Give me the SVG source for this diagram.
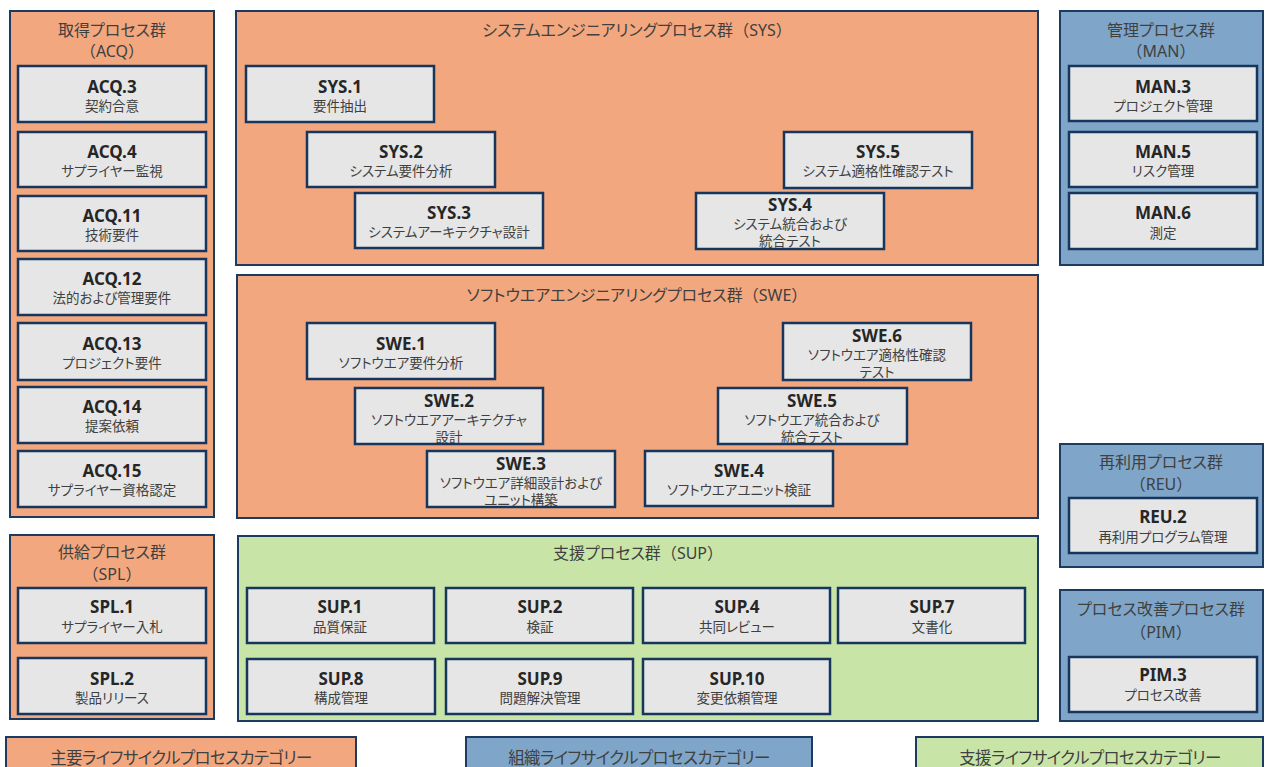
<svg xmlns="http://www.w3.org/2000/svg" width="1265" height="767" viewBox="0 0 1265 767">
  <style>
    text { font-family: "Noto Sans", "Noto Sans CJK JP", sans-serif; text-anchor: middle; font-feature-settings: "palt"; }
    .np { font-feature-settings: normal; }
    .grp { stroke: #1C3B63; stroke-width: 2; }
    .pri { fill: #F3A77E; }
    .org { fill: #7FA6C8; }
    .sup { fill: #C8E5A7; }
    .bx { fill: #E6E6E6; }
    .bd { fill: none; stroke: #17365D; stroke-width: 2.5; }
    .gt { font-size: 16px; fill: #404040; }
    .id { font-size: 17px; font-weight: 700; fill: #262626; }
    .st { font-size: 13.5px; fill: #404040; }
    .lg { font-size: 16.5px; fill: #404040; letter-spacing: -0.6px; }
  </style>

  <!-- primary life cycle: acquisition -->
  <g id="acq">
    <rect class="grp pri" x="10" y="11" width="204" height="506"/>
    <text class="gt" x="112" y="36">取得プロセス群</text>
    <text class="gt np" x="112" y="57">（ACQ）</text>
  </g>
  <g id="acq3"><rect class="bx" x="18" y="66" width="188" height="56"/><text class="id" x="112" y="93">ACQ.3</text><text class="st" x="112" y="111">契約合意</text><rect class="bd" x="18" y="66" width="188" height="56"/></g>
  <g id="acq4"><rect class="bx" x="18" y="132" width="188" height="55"/><text class="id" x="112" y="158">ACQ.4</text><text class="st" x="112" y="176">サプライヤー監視</text><rect class="bd" x="18" y="132" width="188" height="55"/></g>
  <g id="acq11"><rect class="bx" x="18" y="196" width="188" height="55"/><text class="id" x="112" y="222">ACQ.11</text><text class="st" x="112" y="240">技術要件</text><rect class="bd" x="18" y="196" width="188" height="55"/></g>
  <g id="acq12"><rect class="bx" x="18" y="259" width="188" height="56"/><text class="id" x="112" y="285">ACQ.12</text><text class="st" x="112" y="303">法的および管理要件</text><rect class="bd" x="18" y="259" width="188" height="56"/></g>
  <g id="acq13"><rect class="bx" x="18" y="323" width="188" height="57"/><text class="id" x="112" y="350">ACQ.13</text><text class="st" x="112" y="368">プロジェクト要件</text><rect class="bd" x="18" y="323" width="188" height="57"/></g>
  <g id="acq14"><rect class="bx" x="18" y="387" width="188" height="56"/><text class="id" x="112" y="413">ACQ.14</text><text class="st" x="112" y="431">提案依頼</text><rect class="bd" x="18" y="387" width="188" height="56"/></g>
  <g id="acq15"><rect class="bx" x="18" y="451" width="188" height="56"/><text class="id" x="112" y="477">ACQ.15</text><text class="st" x="112" y="495">サプライヤー資格認定</text><rect class="bd" x="18" y="451" width="188" height="56"/></g>

  <!-- system engineering -->
  <g id="sys">
    <rect class="grp pri" x="236" y="11" width="802" height="254"/>
    <text class="gt" x="637" y="36">システムエンジニアリングプロセス群<tspan class="np">（SYS）</tspan></text>
  </g>
  <g id="sys1"><rect class="bx" x="246" y="66" width="188" height="56"/><text class="id" x="340" y="93">SYS.1</text><text class="st" x="340" y="111">要件抽出</text><rect class="bd" x="246" y="66" width="188" height="56"/></g>
  <g id="sys2"><rect class="bx" x="307" y="132" width="188" height="55"/><text class="id" x="401" y="158">SYS.2</text><text class="st" x="401" y="176">システム要件分析</text><rect class="bd" x="307" y="132" width="188" height="55"/></g>
  <g id="sys3"><rect class="bx" x="355" y="193" width="188" height="55"/><text class="id" x="449" y="219">SYS.3</text><text class="st" x="449" y="237">システムアーキテクチャ設計</text><rect class="bd" x="355" y="193" width="188" height="55"/></g>
  <g id="sys4"><rect class="bx" x="696" y="193" width="188" height="56"/><text class="id" x="790" y="211">SYS.4</text><text class="st" x="790" y="229">システム統合および</text><text class="st" x="790" y="246">統合テスト</text><rect class="bd" x="696" y="193" width="188" height="56"/></g>
  <g id="sys5"><rect class="bx" x="784" y="132" width="188" height="56"/><text class="id" x="878" y="158">SYS.5</text><text class="st" x="878" y="176">システム適格性確認テスト</text><rect class="bd" x="784" y="132" width="188" height="56"/></g>

  <!-- software engineering -->
  <g id="swe">
    <rect class="grp pri" x="237" y="275" width="801" height="243"/>
    <text class="gt" x="637" y="301">ソフトウエアエンジニアリングプロセス群<tspan class="np">（SWE）</tspan></text>
  </g>
  <g id="swe1"><rect class="bx" x="307" y="323" width="188" height="56"/><text class="id" x="401" y="350">SWE.1</text><text class="st" x="401" y="368">ソフトウエア要件分析</text><rect class="bd" x="307" y="323" width="188" height="56"/></g>
  <g id="swe2"><rect class="bx" x="355" y="388" width="188" height="56"/><text class="id" x="449" y="407">SWE.2</text><text class="st" x="449" y="425">ソフトウエアアーキテクチャ</text><text class="st" x="449" y="442">設計</text><rect class="bd" x="355" y="388" width="188" height="56"/></g>
  <g id="swe3"><rect class="bx" x="427" y="451" width="188" height="56"/><text class="id" x="521" y="470">SWE.3</text><text class="st" x="521" y="488">ソフトウエア詳細設計および</text><text class="st" x="521" y="505">ユニット構築</text><rect class="bd" x="427" y="451" width="188" height="56"/></g>
  <g id="swe4"><rect class="bx" x="645" y="451" width="188" height="55"/><text class="id" x="739" y="477">SWE.4</text><text class="st" x="739" y="495">ソフトウエアユニット検証</text><rect class="bd" x="645" y="451" width="188" height="55"/></g>
  <g id="swe5"><rect class="bx" x="718" y="388" width="189" height="56"/><text class="id" x="812" y="407">SWE.5</text><text class="st" x="812" y="425">ソフトウエア統合および</text><text class="st" x="812" y="442">統合テスト</text><rect class="bd" x="718" y="388" width="189" height="56"/></g>
  <g id="swe6"><rect class="bx" x="783" y="323" width="188" height="57"/><text class="id" x="877" y="342">SWE.6</text><text class="st" x="877" y="360">ソフトウエア適格性確認</text><text class="st" x="877" y="377">テスト</text><rect class="bd" x="783" y="323" width="188" height="57"/></g>

  <!-- supply -->
  <g id="spl">
    <rect class="grp pri" x="10" y="535" width="204" height="184"/>
    <text class="gt" x="112" y="558">供給プロセス群</text>
    <text class="gt np" x="112" y="580">（SPL）</text>
  </g>
  <g id="spl1"><rect class="bx" x="18" y="588" width="188" height="55"/><text class="id" x="112" y="613">SPL.1</text><text class="st" x="112" y="632">サプライヤー入札</text><rect class="bd" x="18" y="588" width="188" height="55"/></g>
  <g id="spl2"><rect class="bx" x="18" y="658" width="188" height="56"/><text class="id" x="112" y="685">SPL.2</text><text class="st" x="112" y="703">製品リリース</text><rect class="bd" x="18" y="658" width="188" height="56"/></g>

  <!-- supporting processes -->
  <g id="supg">
    <rect class="grp sup" x="238" y="536" width="800" height="185"/>
    <text class="gt" x="638" y="559">支援プロセス群<tspan class="np">（SUP）</tspan></text>
  </g>
  <g id="sup1"><rect class="bx" x="247" y="588" width="187" height="55"/><text class="id" x="340" y="613">SUP.1</text><text class="st" x="340" y="632">品質保証</text><rect class="bd" x="247" y="588" width="187" height="55"/></g>
  <g id="sup2"><rect class="bx" x="446" y="588" width="187" height="55"/><text class="id" x="540" y="613">SUP.2</text><text class="st" x="540" y="632">検証</text><rect class="bd" x="446" y="588" width="187" height="55"/></g>
  <g id="sup4"><rect class="bx" x="643" y="588" width="187" height="55"/><text class="id" x="737" y="613">SUP.4</text><text class="st" x="737" y="632">共同レビュー</text><rect class="bd" x="643" y="588" width="187" height="55"/></g>
  <g id="sup7"><rect class="bx" x="838" y="588" width="187" height="55"/><text class="id" x="932" y="613">SUP.7</text><text class="st" x="932" y="632">文書化</text><rect class="bd" x="838" y="588" width="187" height="55"/></g>
  <g id="sup8"><rect class="bx" x="247" y="659" width="188" height="55"/><text class="id" x="341" y="685">SUP.8</text><text class="st" x="341" y="703">構成管理</text><rect class="bd" x="247" y="659" width="188" height="55"/></g>
  <g id="sup9"><rect class="bx" x="446" y="659" width="187" height="55"/><text class="id" x="540" y="685">SUP.9</text><text class="st" x="540" y="703">問題解決管理</text><rect class="bd" x="446" y="659" width="187" height="55"/></g>
  <g id="sup10"><rect class="bx" x="643" y="659" width="187" height="55"/><text class="id" x="737" y="685">SUP.10</text><text class="st" x="737" y="703">変更依頼管理</text><rect class="bd" x="643" y="659" width="187" height="55"/></g>

  <!-- organizational: management -->
  <g id="man">
    <rect class="grp org" x="1060" y="11" width="203" height="254"/>
    <text class="gt" x="1161" y="36">管理プロセス群</text>
    <text class="gt np" x="1161" y="57">（MAN）</text>
  </g>
  <g id="man3"><rect class="bx" x="1069" y="66" width="188" height="55"/><text class="id" x="1163" y="93">MAN.3</text><text class="st" x="1163" y="111">プロジェクト管理</text><rect class="bd" x="1069" y="66" width="188" height="55"/></g>
  <g id="man5"><rect class="bx" x="1069" y="132" width="188" height="55"/><text class="id" x="1163" y="158">MAN.5</text><text class="st" x="1163" y="176">リスク管理</text><rect class="bd" x="1069" y="132" width="188" height="55"/></g>
  <g id="man6"><rect class="bx" x="1069" y="193" width="188" height="56"/><text class="id" x="1163" y="219">MAN.6</text><text class="st" x="1163" y="238">測定</text><rect class="bd" x="1069" y="193" width="188" height="56"/></g>

  <!-- organizational: reuse -->
  <g id="reu">
    <rect class="grp org" x="1060" y="444" width="203" height="123"/>
    <text class="gt" x="1161" y="468">再利用プロセス群</text>
    <text class="gt np" x="1161" y="490">（REU）</text>
  </g>
  <g id="reu2"><rect class="bx" x="1069" y="498" width="188" height="55"/><text class="id" x="1163" y="523">REU.2</text><text class="st" x="1163" y="542">再利用プログラム管理</text><rect class="bd" x="1069" y="498" width="188" height="55"/></g>

  <!-- organizational: process improvement -->
  <g id="pim">
    <rect class="grp org" x="1060" y="590" width="203" height="131"/>
    <text class="gt" x="1161" y="615">プロセス改善プロセス群</text>
    <text class="gt np" x="1161" y="638">（PIM）</text>
  </g>
  <g id="pim3"><rect class="bx" x="1069" y="657" width="188" height="55"/><text class="id" x="1163" y="681">PIM.3</text><text class="st" x="1163" y="700">プロセス改善</text><rect class="bd" x="1069" y="657" width="188" height="55"/></g>

  <!-- category legend -->
  <g id="legend-primary">
    <rect class="grp pri" x="6" y="737" width="350" height="40"/>
    <text class="lg" x="181" y="764">主要ライフサイクルプロセスカテゴリー</text>
  </g>
  <g id="legend-organizational">
    <rect class="grp org" x="466" y="737" width="346" height="40"/>
    <text class="lg" x="639" y="764">組織ライフサイクルプロセスカテゴリー</text>
  </g>
  <g id="legend-supporting">
    <rect class="grp sup" x="916" y="737" width="347" height="40"/>
    <text class="lg" x="1090" y="764">支援ライフサイクルプロセスカテゴリー</text>
  </g>

  <!-- no connectors in this chart -->
  <g id="connectors"/>
</svg>
